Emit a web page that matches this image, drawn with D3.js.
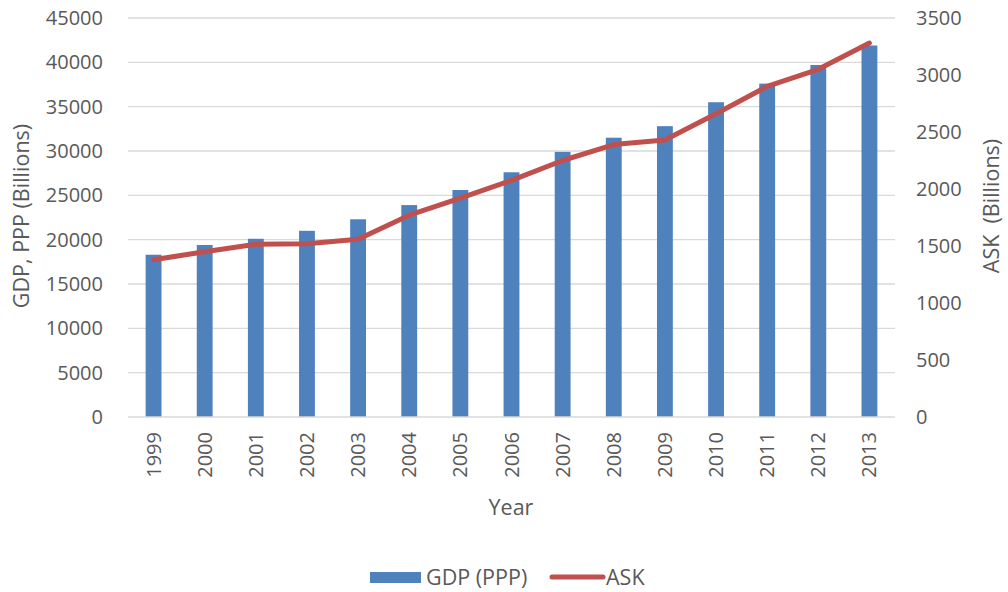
<!DOCTYPE html>
<html>
<head>
<meta charset="utf-8">
<script src="https://cdn.jsdelivr.net/npm/d3@7"></script>
<style>
  html, body { margin: 0; padding: 0; background: #fff; }
  svg text { font-family: "Open Sans", "Liberation Sans", sans-serif; fill: #595959; }
</style>
</head>
<body>
<svg id="chart" width="1008" height="592"></svg>
<script>
// Annual figures, 1999–2013
const years = ["1999","2000","2001","2002","2003","2004","2005","2006","2007","2008","2009","2010","2011","2012","2013"];
const gdpPPP = [18300, 19400, 20100, 21000, 22300, 23900, 25600, 27600, 29900, 31500, 32800, 35500, 37600, 39700, 41900];
const ask = [1380, 1450, 1515, 1520, 1560, 1770, 1920, 2075, 2250, 2390, 2430, 2660, 2900, 3050, 3280];
const leftTicks = [0, 5000, 10000, 15000, 20000, 25000, 30000, 35000, 40000, 45000];
const rightTicks = [0, 500, 1000, 1500, 2000, 2500, 3000, 3500];

const svg = d3.select("#chart");
const plot = { left: 128, right: 895, top: 18, bottom: 417 };
const fontSize = 20;
const titleSize = 21.5;

const x = d3.scaleBand().domain(years).range([plot.left, plot.right]).paddingInner(0.69).paddingOuter(0.345);
const yL = d3.scaleLinear().domain([0, 45000]).range([plot.bottom, plot.top]);
const yR = d3.scaleLinear().domain([0, 3500]).range([plot.bottom, plot.top]);

// Horizontal gridlines
svg.append("g")
  .selectAll("line")
  .data(leftTicks.filter(d => d > 0))
  .join("line")
  .attr("x1", plot.left).attr("x2", plot.right)
  .attr("y1", d => yL(d)).attr("y2", d => yL(d))
  .attr("stroke", "#D9D9D9").attr("stroke-width", 1.3);

// Bars
svg.append("g")
  .selectAll("rect")
  .data(years)
  .join("rect")
  .attr("x", d => x(d))
  .attr("width", x.bandwidth())
  .attr("y", (d, i) => yL(gdpPPP[i]))
  .attr("height", (d, i) => yL(0) - yL(gdpPPP[i]))
  .attr("fill", "#4F81BD");

// Category axis line
svg.append("line")
  .attr("x1", plot.left).attr("x2", plot.right)
  .attr("y1", plot.bottom).attr("y2", plot.bottom)
  .attr("stroke", "#D9D9D9").attr("stroke-width", 1.3);

// ASK line
const line = d3.line()
  .x((d, i) => x(years[i]) + x.bandwidth() / 2)
  .y(d => yR(d));
svg.append("path")
  .datum(ask)
  .attr("d", line)
  .attr("fill", "none")
  .attr("stroke", "#C0504D")
  .attr("stroke-width", 5)
  .attr("stroke-linejoin", "round")
  .attr("stroke-linecap", "round");

// Left axis labels
const leftAxis = d3.axisLeft(yL).tickValues(leftTicks).tickSize(0).tickPadding(0).tickFormat(d3.format("d"));
const gL = svg.append("g").attr("transform", `translate(${103},0)`).call(leftAxis);
gL.select(".domain").remove();
gL.selectAll("text").attr("font-size", fontSize).attr("font-family", null).attr("fill", "#595959");

// Right axis labels
const rightAxis = d3.axisRight(yR).tickValues(rightTicks).tickSize(0).tickPadding(0).tickFormat(d3.format("d"));
const gR = svg.append("g").attr("transform", `translate(${916},0)`).call(rightAxis);
gR.select(".domain").remove();
gR.selectAll("text").attr("font-size", fontSize).attr("font-family", null).attr("fill", "#595959");

// Year labels (rotated)
const bottomAxis = d3.axisBottom(x).tickSize(0).tickPadding(0);
const gB = svg.append("g").attr("transform", `translate(0,${plot.bottom})`).call(bottomAxis);
gB.select(".domain").remove();
gB.selectAll("text")
  .attr("font-size", fontSize).attr("font-family", null).attr("fill", "#595959")
  .attr("transform", "rotate(-90)")
  .attr("text-anchor", "end")
  .attr("x", -15).attr("y", 0).attr("dy", "0.35em");

// Axis titles
svg.append("text")
  .attr("x", 511).attr("y", 507).attr("dy", "0.35em")
  .attr("text-anchor", "middle").attr("font-size", titleSize)
  .text("Year");

svg.append("text")
  .attr("transform", "translate(21,216) rotate(-90)")
  .attr("dy", "0.35em")
  .attr("text-anchor", "middle").attr("font-size", titleSize)
  .text("GDP, PPP (Billions)");

svg.append("text")
  .attr("transform", "translate(991,206) rotate(-90)")
  .attr("dy", "0.35em")
  .attr("text-anchor", "middle").attr("font-size", titleSize)
  .attr("xml:space", "preserve")
  .style("white-space", "pre")
  .text("ASK  (Billions)");

// Legend
const legend = svg.append("g");
legend.append("rect")
  .attr("x", 370).attr("y", 572).attr("width", 51).attr("height", 11)
  .attr("fill", "#4F81BD");
legend.append("text")
  .attr("x", 426).attr("y", 577).attr("dy", "0.35em")
  .attr("font-size", titleSize).text("GDP (PPP)");
legend.append("line")
  .attr("x1", 552).attr("x2", 603).attr("y1", 577).attr("y2", 577)
  .attr("stroke", "#C0504D").attr("stroke-width", 5).attr("stroke-linecap", "round");
legend.append("text")
  .attr("x", 606).attr("y", 577).attr("dy", "0.35em")
  .attr("font-size", titleSize).text("ASK");
</script>
</body>
</html>
